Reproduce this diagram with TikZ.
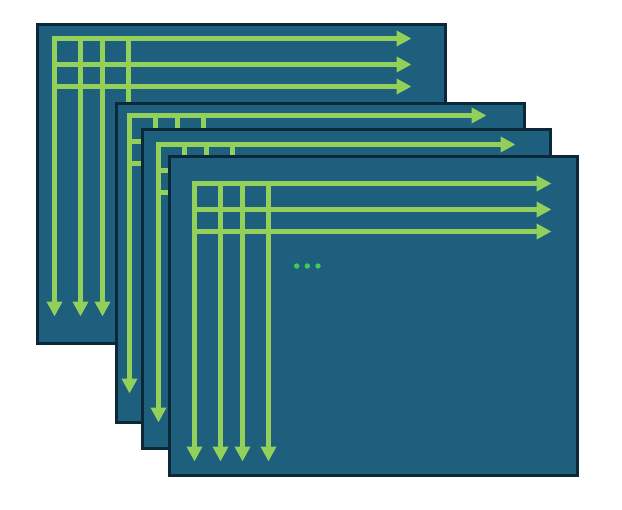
\documentclass[tikz,border=0pt]{standalone}
\usetikzlibrary{arrows.meta}
\definecolor{panelblue}{HTML}{1F5F7E}
\definecolor{edgenavy}{HTML}{0B2838}
\definecolor{flowgreen}{HTML}{92D05A}
\definecolor{dotgreen}{HTML}{3DCB5C}

% one panel: #1,#2 top-left corner, #3,#4 offset of the arrow grid
\newcommand{\gridpanel}[4]{%
  \begin{scope}[shift={(#1,#2)}]
    \filldraw[panel] (0,0) rectangle (408,319);
    \begin{scope}[shift={(#3,#4)}]
      \draw[flow, <->] (0,278) -- (0,0) -- (357,0);
      \draw[flow, ->] (0,26) -- (357,26);
      \draw[flow, ->] (0,48) -- (357,48);
      \draw[flow, ->] (26,0) -- (26,278);
      \draw[flow, ->] (48,0) -- (48,278);
      \draw[flow, ->] (74,0) -- (74,278);
    \end{scope}
  \end{scope}}

\begin{document}
\begin{tikzpicture}[
    x=0.02cm, y=-0.02cm,
    >={Triangle[length=8.5pt, width=8.5pt]},
    panel/.style={fill=panelblue, draw=edgenavy, line width=1.7pt},
    flow/.style={draw=flowgreen, line width=2.67pt},
  ]

  \useasboundingbox (0,0) rectangle (622,510);

  % === Stack of panels, back to front ===
  \gridpanel{37.5}{24.5}{17}{14}
  \gridpanel{116.5}{103.5}{13}{12}
  \gridpanel{142.5}{129.5}{16}{15}
  \gridpanel{169.5}{156.5}{25}{27}

  % Ellipsis on the front panel
  \fill[dotgreen] (296.7,266) circle (2.7);
  \fill[dotgreen] (307.3,266) circle (2.7);
  \fill[dotgreen] (318,266) circle (2.7);

\end{tikzpicture}
\end{document}
